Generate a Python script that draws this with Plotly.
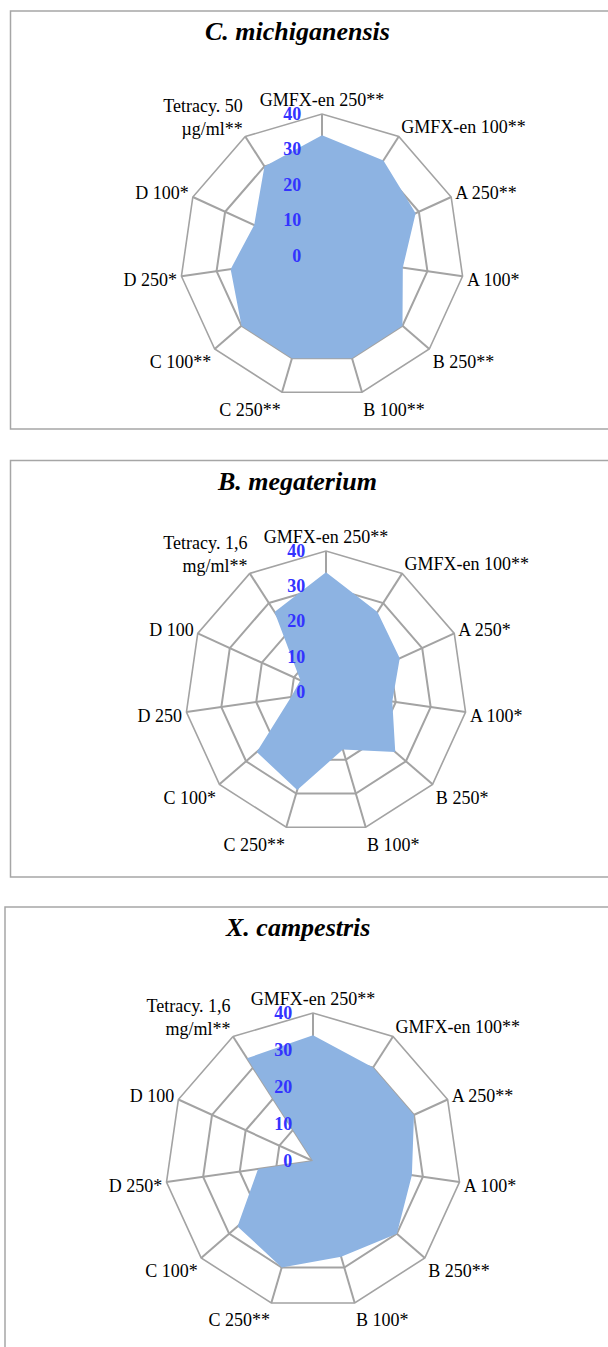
import plotly.graph_objects as go

W, H = 608, 1347

# Inhibition zones per treatment (three test organisms)
titles = ["C. michiganensis", "B. megaterium", "X. campestris"]

categories_cm = ["GMFX-en 250**", "GMFX-en 100**", "A 250**", "A 100*", "B 250**",
                 "B 100**", "C 250**", "C 100**", "D 250*", "D 100*",
                 "Tetracy. 50<br>µg/ml**"]
values_cm = [34, 32, 29, 23, 30, 30, 30, 30, 26, 21, 30]

categories_bm = ["GMFX-en 250**", "GMFX-en 100**", "A 250*", "A 100*", "B 250*",
                 "B 100*", "C 250**", "C 100*", "D 250", "D 100",
                 "Tetracy. 1,6<br>mg/ml**"]
values_bm = [34, 27, 23, 19, 26, 17, 29, 26, 10, 8, 27]

categories_xc = ["GMFX-en 250**", "GMFX-en 100**", "A 250**", "A 100*", "B 250**",
                 "B 100*", "C 250**", "C 100*", "D 250*", "D 100",
                 "Tetracy. 1,6<br>mg/ml**"]
values_xc = [34, 30, 30, 27, 30, 27, 30, 27, 15, 0, 33]

radial_ticks = [0, 10, 20, 30, 40]
radial_range = [0, 40]

FILL = "#8DB3E2"
GRID = "#A3A3A3"
TICK_BLUE = "#3333FF"
SERIF = "Liberation Serif"

# panel geometry: polar centre (px), outer radius (px), title centre y, frame box
panels = [
    dict(cx=322, cy=256, r=142, ty=32, frame=(10.5, 11, 700, 429)),
    dict(cx=326, cy=692, r=141, ty=482, frame=(10.5, 460.5, 700, 877)),
    dict(cx=313, cy=1161, r=148, ty=927, frame=(5, 907, 700, 1400)),
]
series = [(categories_cm, values_cm), (categories_bm, values_bm), (categories_xc, values_xc)]

fig = go.Figure()
layout = dict(
    width=W, height=H,
    margin=dict(l=0, r=0, t=0, b=0),
    paper_bgcolor="white",
    plot_bgcolor="white",
    showlegend=False,
    shapes=[], annotations=[],
)

for i, (p, (cats, vals)) in enumerate(zip(panels, series)):
    key = "polar" if i == 0 else f"polar{i + 1}"
    fig.add_trace(go.Scatterpolar(
        r=vals + vals[:1], theta=cats + cats[:1],
        mode="lines", fill="toself", fillcolor=FILL,
        line=dict(width=0, color=FILL),
        subplot=key, hoverinfo="skip",
    ))
    cx, cy, r = p["cx"], p["cy"], p["r"]
    layout[key] = dict(
        domain=dict(x=[(cx - r) / W, (cx + r) / W],
                    y=[1 - (cy + r) / H, 1 - (cy - r) / H]),
        gridshape="linear",
        bgcolor="rgba(0,0,0,0)",
        angularaxis=dict(
            type="category", categoryarray=cats,
            rotation=90, direction="clockwise",
            showline=True, linecolor=GRID, linewidth=1.6,
            showgrid=True, gridcolor=GRID, gridwidth=1.6,
            ticks="", layer="above traces",
            tickfont=dict(family=SERIF, size=18, color="black"),
        ),
        radialaxis=dict(
            range=radial_range, tickvals=radial_ticks,
            angle=90, tickangle=90, side="counterclockwise",
            showline=False, showgrid=True, gridcolor=GRID, gridwidth=1.6,
            ticks="outside", ticklen=14, tickcolor="rgba(0,0,0,0)",
            layer="above traces",
            tickfont=dict(family=SERIF, size=18, color=TICK_BLUE, weight="bold"),
        ),
    )
    x0, y0, x1, y1 = p["frame"]
    layout["shapes"].append(dict(
        type="rect", xref="paper", yref="paper",
        x0=x0 / W, x1=x1 / W, y0=1 - y1 / H, y1=1 - y0 / H,
        line=dict(color="#A6A6A6", width=1.5), fillcolor="rgba(0,0,0,0)",
        layer="below",
    ))
    layout["annotations"].append(dict(
        text=titles[i], xref="paper", yref="paper",
        x=297 / W, y=1 - p["ty"] / H, xanchor="center", yanchor="middle",
        showarrow=False,
        font=dict(family=SERIF, size=26, color="black", weight="bold", style="italic"),
    ))

fig.update_layout(**layout)
fig.write_html("out.html")
